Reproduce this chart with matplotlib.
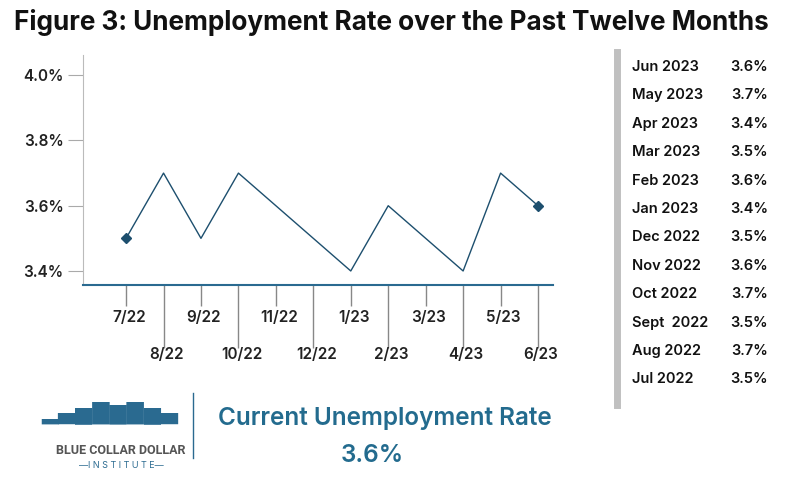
import matplotlib
matplotlib.use("Agg")
import matplotlib.pyplot as plt
from matplotlib.lines import Line2D

plt.rcParams['font.family'] = ['Inter', 'DejaVu Sans']

months = ["7/22","8/22","9/22","10/22","11/22","12/22","1/23","2/23","3/23","4/23","5/23","6/23"]
rates = [3.5, 3.7, 3.5, 3.7, 3.6, 3.5, 3.4, 3.6, 3.5, 3.4, 3.7, 3.6]
table_months = ["Jun 2023","May 2023","Apr 2023","Mar 2023","Feb 2023","Jan 2023",
                "Dec 2022","Nov 2022","Oct 2022","Sept  2022","Aug 2022","Jul 2022"]
table_vals = ["3.6%","3.7%","3.4%","3.5%","3.6%","3.4%","3.5%","3.6%","3.7%","3.5%","3.7%","3.5%"]
yticks = [3.4, 3.6, 3.8, 4.0]
current = "3.6%"

W, H = 800, 500
fig = plt.figure(figsize=(8, 5), dpi=100)
LINE = "#1d4f6e"

fig.text(14/W, 1-22/H, "Figure 3: Unemployment Rate over the Past Twelve Months",
         fontsize=18.8, fontweight='bold', va='center', ha='left', color='#111111')

ax = fig.add_axes([83/W, 1-285/H, 470/W, 230/H])
x = list(range(len(months)))
ax.plot(x, rates, color=LINE, lw=1)
ax.plot([x[0], x[-1]], [rates[0], rates[-1]], ls='none', marker='D', ms=5.5, color=LINE)
ax.set_xlim(-1.15, 11.4)
ax.set_ylim(3.357, 4.062)
for s in ['top', 'right']:
    ax.spines[s].set_visible(False)
ax.spines['left'].set_color('#bbbbbb')
ax.spines['bottom'].set_color('#2a6a90')
ax.spines['bottom'].set_linewidth(1.5)
ax.set_yticks(yticks)
ax.set_yticklabels([f"{v:.1f}%" for v in yticks], fontsize=11, fontweight='semibold', color='#222222')
ax.tick_params(axis='y', length=11, color='#aaaaaa', pad=3)
ax.set_xticks(x[1::2])
ax.set_xticks(x[0::2], minor=True)
ax.set_xticklabels([])
ax.tick_params(axis='x', which='major', length=45, color='#888888', width=1)
ax.tick_params(axis='x', which='minor', length=15, color='#888888', width=1)
tr = ax.get_xaxis_transform()
for i, m in enumerate(months):
    yy = -0.143 if i % 2 == 0 else -0.304
    ax.text(i + 0.08, yy, m, transform=tr, ha='center', va='center',
            fontsize=11, fontweight='semibold', color='#222222')

# right table
fig.add_artist(Line2D([616.5/W]*2, [1-52/H, 1-405/H], color='#c0c0c0', lw=5))
for k, (m, v) in enumerate(zip(table_months, table_vals)):
    yy = 1 - (67 + k*28.4)/H
    fig.text(632/W, yy, m, fontsize=10.5, fontweight='semibold', va='center', ha='left', color='#111111')
    fig.text(768/W, yy, v, fontsize=10.5, fontweight='semibold', va='center', ha='right', color='#111111')

# bottom
fig.add_artist(Line2D([193/W]*2, [1-393/H, 1-458/H], color='#2a6a90', lw=1))
fig.text(385/W, 1-418/H, "Current Unemployment Rate", fontsize=17.5, fontweight='semibold',
         color='#236b8e', ha='center', va='center')
fig.text(372/W, 1-455/H, current, fontsize=17.5, fontweight='semibold',
         color='#236b8e', ha='center', va='center')
fig.text(121/W, 1-451/H, "BLUE COLLAR DOLLAR", fontsize=9, fontweight='bold', stretch='condensed',
         color='#555555', ha='center', va='center', family='Roboto')
fig.text(121/W, 1-466/H, "—I N S T I T U T E—", fontsize=6.5, color='#2a6a90', ha='center', va='center')
fig.text(110/W, 1-413/H, "▂▄▆█▇█▆▄", fontsize=16, color='#2a6a90', ha='center', va='center', family='DejaVu Sans')

fig.savefig("out.png", dpi=100)
